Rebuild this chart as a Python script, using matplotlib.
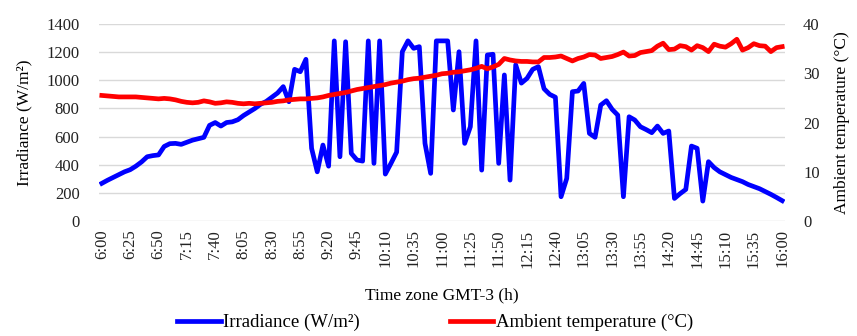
import numpy as np
import pandas as pd
import matplotlib
matplotlib.use("Agg")
import matplotlib.pyplot as plt

plt.rcParams['font.family'] = ['Liberation Serif', 'DejaVu Serif']

# 5-minute samples from 6:00 to 16:00
times = pd.date_range("2020-01-01 06:00", "2020-01-01 16:00", freq="5min")
time_labels = [f"{t.hour}:{t.minute:02d}" for t in times]

irradiance = [268, 290, 310, 330, 350, 365, 390, 420, 457, 465,
              470, 530, 550, 552, 545, 560, 575, 585, 595, 680,
              700, 675, 700, 705, 720, 750, 775, 800, 830, 850,
              880, 910, 955, 848, 1078, 1061, 1149, 517, 350, 540,
              390, 1280, 457, 1274, 481, 434, 426, 1280, 410, 1280,
              334, 410, 490, 1203, 1280, 1227, 1239, 552, 339, 1280,
              1280, 1280, 789, 1203, 552, 670, 1280, 362, 1180, 1185,
              410, 1038, 291, 1110, 980, 1014, 1078, 1097, 940, 900,
              880, 173, 303, 919, 924, 978, 623, 595, 824, 855,
              794, 753, 173, 741, 718, 670, 650, 628, 675, 623,
              640, 161, 195, 225, 533, 517, 142, 422, 380, 350,
              330, 310, 295, 280, 260, 245, 230, 210, 190, 168,
              145]

temperature = [25.5, 25.4, 25.3, 25.2, 25.2, 25.2, 25.2, 25.1, 25.0, 24.9,
               24.8, 24.9, 24.8, 24.6, 24.3, 24.1, 24.0, 24.1, 24.4, 24.2,
               23.9, 24.0, 24.2, 24.1, 23.9, 23.8, 23.9, 23.8, 23.9, 24.0,
               24.1, 24.3, 24.4, 24.6, 24.7, 24.8, 24.8, 24.9, 25.0, 25.2,
               25.5, 25.7, 25.9, 26.1, 26.4, 26.7, 26.9, 27.1, 27.3, 27.5,
               27.7, 28.0, 28.2, 28.4, 28.7, 28.9, 29.0, 29.2, 29.4, 29.6,
               29.9, 30.0, 30.2, 30.3, 30.5, 30.7, 31.0, 31.4, 30.9, 31.3,
               31.8, 33.0, 32.7, 32.5, 32.4, 32.4, 32.3, 32.3, 33.2, 33.2,
               33.3, 33.5, 33.0, 32.5, 33.0, 33.3, 33.8, 33.7, 33.0, 33.2,
               33.4, 33.8, 34.3, 33.5, 33.6, 34.2, 34.4, 34.6, 35.5, 36.1,
               34.8, 34.9, 35.6, 35.4, 34.7, 35.6, 35.2, 34.4, 35.9, 35.5,
               35.3, 36.0, 36.9, 34.7, 35.2, 36.0, 35.6, 35.5, 34.4, 35.2,
               35.4]

x = np.arange(len(times))

fig = plt.figure(figsize=(8.57, 3.36), dpi=100)
ax = fig.add_axes([0.1155, 0.342, 0.8005, 0.5866])
ax2 = ax.twinx()

l1, = ax.plot(x, irradiance, color="#0000FF", lw=3.4, solid_joinstyle="round",
              label="Irradiance (W/m²)")
l2, = ax2.plot(x, temperature, color="#FF0000", lw=3.4, solid_joinstyle="round",
               label="Ambient temperature (°C)")

ax.set_xlim(-0.5, 120.5)
ax.set_ylim(0, 1400)
ax.set_yticks(np.arange(0, 1401, 200))
ax2.set_ylim(0, 40)
ax2.set_yticks(np.arange(0, 41, 10))

ax.set_xticks(x[::5])
ax.set_xticklabels(time_labels[::5], rotation=90)

ax.grid(axis="y", color="#d9d9d9", lw=1)
ax.set_axisbelow(True)
for a in (ax, ax2):
    for s in a.spines.values():
        s.set_visible(False)
    a.tick_params(length=0, labelsize=12, colors="#222222")
ax.tick_params(axis="y", pad=14)
ax2.tick_params(axis="y", pad=13)
ax.tick_params(axis="x", pad=6)

ax.set_xlabel("Time zone GMT-3 (h)", fontsize=12.5, labelpad=14)
ax.set_ylabel("Irradiance (W/m²)", fontsize=12.5, labelpad=10)
ax2.set_ylabel("Ambient temperature (°C)", fontsize=12.5, labelpad=10)

fig.legend(handles=[l1, l2], loc="center", bbox_to_anchor=(0.508, 0.04), ncol=2,
           frameon=False, fontsize=13.5, handlelength=2.3, handletextpad=0.15,
           columnspacing=4.8)

fig.savefig("out.png", dpi=100)
